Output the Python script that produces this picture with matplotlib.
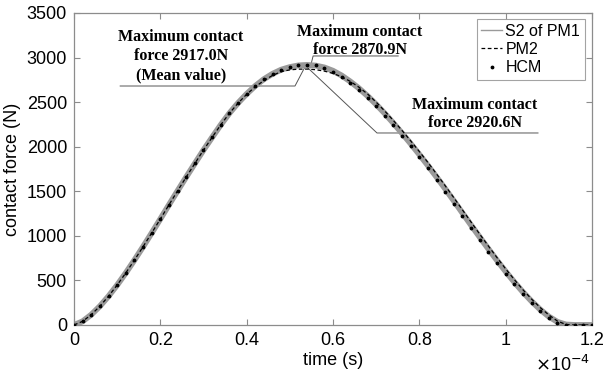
import matplotlib
matplotlib.use("Agg")
import matplotlib.pyplot as plt
from matplotlib.lines import Line2D

# time in units of 1e-4 s
time = [0.00, 0.02, 0.04, 0.06, 0.08, 0.10, 0.12, 0.14, 0.16, 0.18,
        0.20, 0.22, 0.24, 0.26, 0.28, 0.30, 0.32, 0.34, 0.36, 0.38,
        0.40, 0.42, 0.44, 0.46, 0.48, 0.50, 0.52, 0.54, 0.56, 0.58,
        0.60, 0.62, 0.64, 0.66, 0.68, 0.70, 0.72, 0.74, 0.76, 0.78,
        0.80, 0.82, 0.84, 0.86, 0.88, 0.90, 0.92, 0.94, 0.96, 0.98,
        1.00, 1.02, 1.04, 1.06, 1.08, 1.10, 1.12, 1.14, 1.16, 1.18,
        1.20]

hcm = [0, 41, 116, 211, 323, 448, 584, 728, 878, 1032,
       1189, 1348, 1505, 1660, 1812, 1962, 2105, 2245, 2375, 2490,
       2592, 2682, 2758, 2818, 2864, 2896, 2915, 2920, 2912, 2885,
       2842, 2785, 2716, 2638, 2550, 2452, 2349, 2239, 2124, 2006,
       1884, 1758, 1628, 1495, 1359, 1222, 1087, 953, 822, 694,
       572, 455, 345, 245, 155, 80, 23, 0, 0, 0,
       0]

pm2 = [0, 41, 116, 211, 323, 448, 584, 728, 878, 1032,
       1189, 1348, 1505, 1660, 1812, 1962, 2105, 2245, 2375, 2488,
       2588, 2672, 2742, 2800, 2842, 2862, 2870, 2871, 2864, 2848,
       2822, 2785, 2733, 2668, 2592, 2500, 2400, 2294, 2182, 2066,
       1946, 1823, 1694, 1562, 1428, 1291, 1154, 1019, 886, 756,
       630, 510, 396, 291, 196, 113, 44, 5, 0, 0,
       0]

s2_pm1 = [0, 41, 116, 211, 323, 448, 584, 728, 878, 1032,
          1189, 1348, 1505, 1660, 1812, 1962, 2105, 2245, 2375, 2490,
          2592, 2682, 2758, 2818, 2864, 2893, 2912, 2917, 2910, 2889,
          2852, 2799, 2732, 2656, 2570, 2475, 2373, 2264, 2151, 2034,
          1913, 1789, 1660, 1528, 1393, 1256, 1120, 986, 854, 725,
          601, 482, 370, 267, 174, 95, 35, 5, 0, 0,
          0]

x_ticks = [0, 0.2, 0.4, 0.6, 0.8, 1.0, 1.2]
x_labels = ["0", "0.2", "0.4", "0.6", "0.8", "1", "1.2"]
y_ticks = [0, 500, 1000, 1500, 2000, 2500, 3000, 3500]

sans = "Liberation Sans"
serif = "Liberation Serif"
axis_gray = "#8c8c8c"
band_gray = "#9a9a9a"

fig = plt.figure(figsize=(6.09, 3.79), dpi=100)
ax = fig.add_axes([0.1215, 0.1425, 0.8505, 0.8232])

ax.plot(time, s2_pm1, color=band_gray, lw=4.2, solid_capstyle="round", zorder=2)
ax.plot(time, pm2, color="black", lw=0.9, dashes=(3, 2), zorder=3)
ax.plot(time, hcm, linestyle="none", marker=".", markersize=3.5, color="black", zorder=4)

ax.set_xlim(0, 1.2)
ax.set_ylim(0, 3500)
ax.set_xticks(x_ticks)
ax.set_xticklabels(x_labels)
ax.set_yticks(y_ticks)
ax.tick_params(direction="in", length=4, width=0.8, color=axis_gray,
               top=True, right=True, labelsize=13, pad=5)
for lab in ax.get_xticklabels() + ax.get_yticklabels():
    lab.set_fontfamily(sans)
for sp in ax.spines.values():
    sp.set_color(axis_gray)
    sp.set_linewidth(0.9)

ax.set_xlabel("time (s)", fontsize=13, fontfamily=sans, labelpad=2)
ax.set_ylabel("contact force (N)", fontsize=13, fontfamily=sans, labelpad=4)
# MATLAB-style exponent label under the right end of the x axis
ax.text(0.997, -0.128, r"$\times$10$^{-4}$", transform=ax.transAxes,
        fontsize=13, fontfamily=sans, ha="right", va="center")

# annotations
note = dict(fontsize=11.5, fontfamily=serif, fontweight="bold", ha="center", va="center")
lead = dict(color="#555555", lw=0.7, zorder=1)

ax.text(0.248, 3231, "Maximum contact", **note)
ax.text(0.248, 3018, "force 2917.0N", **note)
ax.text(0.248, 2805, "(Mean value)", **note)
ax.plot([0.107, 0.512, 0.535], [2681, 2681, 2894], **lead)

ax.text(0.662, 3287, "Maximum contact", **note)
ax.text(0.662, 3085, "force 2870.9N", **note)
ax.plot([0.547, 0.554, 0.751], [2883, 3018, 3018], **lead)

ax.text(0.929, 2468, "Maximum contact", **note)
ax.text(0.929, 2266, "force 2920.6N", **note)
ax.plot([0.542, 0.702, 1.075], [2883, 2154, 2154], **lead)

handles = [
    Line2D([], [], color=band_gray, lw=1),
    Line2D([], [], color="black", lw=0.9, dashes=(3, 2)),
    Line2D([], [], linestyle="none", marker=".", markersize=3.5, color="black"),
]
leg = ax.legend(handles, ["S2 of PM1", "PM2", "HCM"], loc="upper right",
                bbox_to_anchor=(0.9865, 0.981), prop={"family": sans, "size": 11.5},
                frameon=True, fancybox=False, handlelength=1.3, handletextpad=0.2,
                borderpad=0.3, labelspacing=0.2, borderaxespad=0)
leg.get_frame().set_edgecolor(axis_gray)
leg.get_frame().set_linewidth(0.8)

fig.savefig("out.png", dpi=100)
